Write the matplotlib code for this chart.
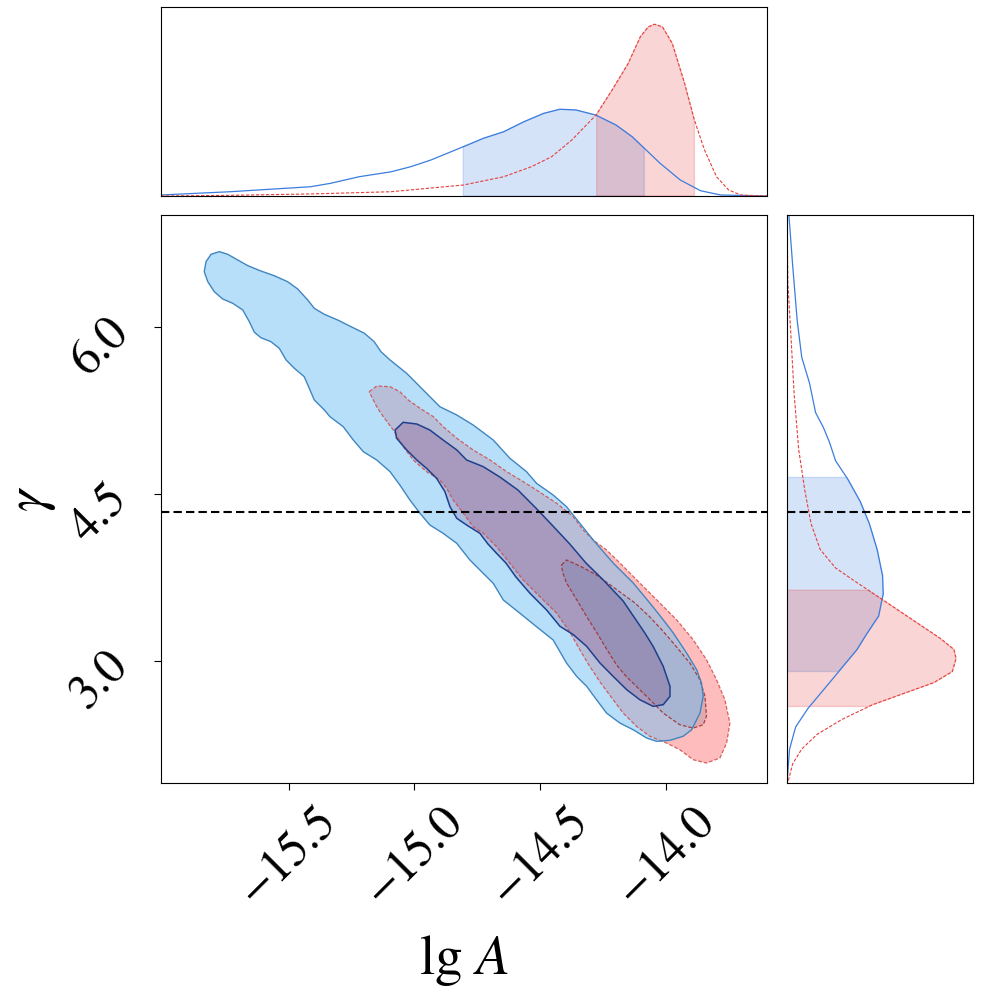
import numpy as np
import matplotlib
matplotlib.use("Agg")
import matplotlib.pyplot as plt
from matplotlib.path import Path
from matplotlib.patches import PathPatch, Polygon

plt.rcParams['font.family'] = 'STIXGeneral'
plt.rcParams['mathtext.fontset'] = 'stix'

# ---- data ----
gamma_inj = 4.333

# 2D credible contours (lg A, gamma), outer = 95%, inner = 68%
blue_outer = [(-15.835, 6.494), (-15.828, 6.584), (-15.808, 6.650), (-15.775, 6.674), (-15.742, 6.650),
              (-15.702, 6.599), (-15.662, 6.548), (-15.610, 6.500), (-15.557, 6.458), (-15.504, 6.404),
              (-15.464, 6.339), (-15.424, 6.240), (-15.398, 6.165), (-15.358, 6.111), (-15.305, 6.060),
              (-15.252, 6.000), (-15.199, 5.941), (-15.160, 5.865), (-15.133, 5.775), (-15.097, 5.701),
              (-15.031, 5.581), (-14.965, 5.431), (-14.899, 5.281), (-14.832, 5.207), (-14.767, 5.117),
              (-14.687, 4.982), (-14.621, 4.818), (-14.555, 4.698), (-14.515, 4.593), (-14.449, 4.488),
              (-14.396, 4.383), (-14.343, 4.234), (-14.290, 4.084), (-14.211, 3.878), (-14.131, 3.698),
              (-14.065, 3.518), (-14.012, 3.368), (-13.972, 3.249), (-13.919, 3.069), (-13.879, 2.919),
              (-13.860, 2.800), (-13.853, 2.680), (-13.866, 2.530), (-13.899, 2.380), (-13.933, 2.321),
              (-13.985, 2.285), (-14.038, 2.276), (-14.078, 2.306), (-14.131, 2.380), (-14.184, 2.440),
              (-14.237, 2.530), (-14.277, 2.650), (-14.316, 2.770), (-14.356, 2.860), (-14.396, 2.979),
              (-14.449, 3.186), (-14.515, 3.305), (-14.581, 3.426), (-14.647, 3.545), (-14.687, 3.695),
              (-14.727, 3.785), (-14.780, 3.905), (-14.832, 4.054), (-14.886, 4.144), (-14.939, 4.219),
              (-14.978, 4.324), (-15.018, 4.443), (-15.058, 4.578), (-15.097, 4.698), (-15.150, 4.803),
              (-15.203, 4.877), (-15.243, 4.982), (-15.283, 5.102), (-15.336, 5.192), (-15.358, 5.252),
              (-15.398, 5.342), (-15.418, 5.447), (-15.438, 5.551), (-15.477, 5.626), (-15.510, 5.701),
              (-15.537, 5.806), (-15.570, 5.865), (-15.610, 5.901), (-15.636, 5.950), (-15.656, 6.045),
              (-15.682, 6.150), (-15.722, 6.210), (-15.762, 6.249), (-15.795, 6.314), (-15.821, 6.404)]

blue_inner = [(-15.077, 5.072), (-15.045, 5.141), (-14.991, 5.126), (-14.939, 5.072), (-14.886, 4.982),
              (-14.832, 4.893), (-14.793, 4.803), (-14.727, 4.743), (-14.661, 4.650), (-14.589, 4.533),
              (-14.518, 4.372), (-14.450, 4.210), (-14.383, 4.048), (-14.319, 3.878), (-14.250, 3.725),
              (-14.171, 3.536), (-14.120, 3.366), (-14.085, 3.249), (-14.052, 3.129), (-14.012, 2.950),
              (-13.985, 2.770), (-13.985, 2.680), (-14.012, 2.605), (-14.052, 2.590), (-14.105, 2.650),
              (-14.157, 2.740), (-14.211, 2.860), (-14.263, 2.979), (-14.316, 3.129), (-14.369, 3.234),
              (-14.422, 3.309), (-14.475, 3.455), (-14.541, 3.605), (-14.597, 3.752), (-14.637, 3.878),
              (-14.674, 3.965), (-14.708, 4.048), (-14.740, 4.144), (-14.793, 4.219), (-14.832, 4.279),
              (-14.859, 4.383), (-14.879, 4.518), (-14.912, 4.638), (-14.952, 4.728), (-14.991, 4.803),
              (-15.031, 4.893), (-15.071, 4.998)]

red_outer = [(-15.180, 5.416), (-15.150, 5.467), (-15.097, 5.461), (-15.058, 5.416), (-15.025, 5.342),
             (-14.978, 5.267), (-14.925, 5.192), (-14.886, 5.102), (-14.832, 4.998), (-14.767, 4.893),
             (-14.700, 4.803), (-14.634, 4.698), (-14.568, 4.608), (-14.515, 4.533), (-14.435, 4.414),
             (-14.369, 4.293), (-14.330, 4.174), (-14.290, 4.084), (-14.237, 3.994), (-14.184, 3.878),
             (-14.105, 3.698), (-14.025, 3.518), (-13.959, 3.368), (-13.893, 3.189), (-13.840, 3.009),
             (-13.800, 2.829), (-13.767, 2.650), (-13.747, 2.440), (-13.760, 2.261), (-13.787, 2.126),
             (-13.840, 2.081), (-13.893, 2.111), (-13.946, 2.201), (-13.999, 2.261), (-14.065, 2.321),
             (-14.118, 2.411), (-14.171, 2.530), (-14.216, 2.665), (-14.263, 2.809), (-14.307, 2.961),
             (-14.347, 3.114), (-14.383, 3.258), (-14.435, 3.426), (-14.502, 3.575), (-14.568, 3.725),
             (-14.621, 3.875), (-14.674, 4.024), (-14.727, 4.144), (-14.767, 4.204), (-14.806, 4.324),
             (-14.846, 4.443), (-14.872, 4.549), (-14.899, 4.623), (-14.952, 4.698), (-15.005, 4.803),
             (-15.045, 4.922), (-15.084, 5.072), (-15.124, 5.192), (-15.150, 5.281), (-15.170, 5.371)]

red_inner = [(-14.416, 3.860), (-14.396, 3.905), (-14.343, 3.851), (-14.277, 3.770), (-14.200, 3.644),
             (-14.124, 3.518), (-14.065, 3.393), (-14.017, 3.276), (-13.972, 3.159), (-13.906, 2.979),
             (-13.866, 2.829), (-13.846, 2.680), (-13.840, 2.501), (-13.853, 2.425), (-13.893, 2.395),
             (-13.946, 2.425), (-14.012, 2.530), (-14.078, 2.680), (-14.157, 2.854), (-14.197, 2.961),
             (-14.232, 3.087), (-14.275, 3.249), (-14.315, 3.393), (-14.355, 3.545), (-14.396, 3.698),
             (-14.412, 3.797)]

# marginal of lg A (top panel)
top_lga_blue = [-16.007, -15.732, -15.413, -15.333, -15.221, -15.093, -15.014, -14.934, -14.806, -14.726,
                -14.646, -14.566, -14.487, -14.423, -14.359, -14.279, -14.199, -14.135, -14.087, -14.024,
                -13.944, -13.864, -13.784, -13.600]
top_pdf_blue = [0.006, 0.025, 0.054, 0.074, 0.112, 0.141, 0.171, 0.210, 0.287, 0.336,
                0.374, 0.432, 0.481, 0.505, 0.501, 0.471, 0.413, 0.345, 0.278, 0.190,
                0.093, 0.031, 0.006, 0.0]
top_lga_red = [-16.007, -15.733, -15.413, -15.093, -14.806, -14.646, -14.535, -14.455, -14.375, -14.311,
               -14.279, -14.215, -14.151, -14.103, -14.071, -14.047, -14.015, -13.976, -13.927, -13.888,
               -13.848, -13.800, -13.752, -13.704, -13.600]
top_pdf_red = [0.0, 0.004, 0.012, 0.025, 0.064, 0.112, 0.171, 0.229, 0.326, 0.423,
               0.471, 0.617, 0.772, 0.927, 0.985, 1.0, 0.985, 0.889, 0.656, 0.442,
               0.268, 0.112, 0.035, 0.006, 0.0]

# marginal of gamma (right panel)
right_g_blue = [7.003, 6.555, 6.057, 5.725, 5.493, 5.228, 5.095, 4.962, 4.796, 4.629, 4.430, 4.231,
                3.999, 3.766, 3.601, 3.401, 3.235, 3.102, 2.936, 2.737, 2.572, 2.405, 2.207, 1.907]
right_pdf_blue = [0.011, 0.033, 0.060, 0.087, 0.133, 0.169, 0.215, 0.251, 0.287, 0.360, 0.433, 0.487,
                  0.533, 0.565, 0.569, 0.542, 0.469, 0.415, 0.324, 0.215, 0.124, 0.051, 0.015, 0.0]
right_g_red = [7.0, 6.389, 5.891, 5.394, 4.895, 4.531, 4.231, 3.999, 3.833, 3.700, 3.535, 3.368,
               3.202, 3.102, 3.020, 2.903, 2.803, 2.704, 2.604, 2.472, 2.339, 2.207, 2.073, 1.907]
right_pdf_red = [0.0, 0.005, 0.024, 0.042, 0.069, 0.105, 0.142, 0.196, 0.287, 0.415, 0.578, 0.742,
                 0.905, 0.987, 1.0, 0.978, 0.869, 0.687, 0.505, 0.324, 0.178, 0.087, 0.033, 0.005]

# 68% intervals shaded in the marginals
blue_ci_lga = (-14.806, -14.087)
red_ci_lga = (-14.276, -13.888)
blue_ci_gamma = (2.903, 4.646)
red_ci_gamma = (2.589, 3.634)

xlim = (-16.007, -13.600)
ylim = (1.902, 7.003)

BLUE_LINE = '#3b7ddd'
RED_LINE = '#e5403c'


def ring(pts, ccw=True):
    a = np.asarray(pts, dtype=float)
    area = 0.5 * np.sum(a[:, 0] * np.roll(a[:, 1], -1) - np.roll(a[:, 0], -1) * a[:, 1])
    if (area > 0) != ccw:
        a = a[::-1]
    return a


def band_path(outer, inner):
    o = ring(outer, True)
    i = ring(inner, False)
    verts = np.concatenate([o, o[:1], i, i[:1]])
    codes = ([Path.MOVETO] + [Path.LINETO] * (len(o) - 1) + [Path.CLOSEPOLY] +
             [Path.MOVETO] + [Path.LINETO] * (len(i) - 1) + [Path.CLOSEPOLY])
    return Path(verts, codes)


def shade_poly(xs, ps, lo, hi):
    xs = np.asarray(xs)
    ps = np.asarray(ps)
    m = (xs > lo) & (xs < hi)
    px = np.concatenate([[lo], xs[m], [hi]])
    py = np.concatenate([[np.interp(lo, xs, ps)], ps[m], [np.interp(hi, xs, ps)]])
    return np.concatenate([[lo], px, [hi]]), np.concatenate([[0], py, [0]])


fig = plt.figure(figsize=(9.96, 9.94), dpi=100)
ax = fig.add_axes([0.1616, 0.2123, 0.6084, 0.5714])
ax_top = fig.add_axes([0.1616, 0.8028, 0.6084, 0.1901])
ax_right = fig.add_axes([0.7902, 0.2123, 0.1867, 0.5714])

# ---- main 2D panel ----
ax.add_patch(Polygon(red_outer, closed=True, fc='#ffbcbc', ec='none', zorder=1))
ax.add_patch(Polygon(red_inner, closed=True, fc='#deaaaf', ec='none', zorder=1))
ax.add_patch(PathPatch(band_path(blue_outer, blue_inner), fc='#73c1f5', ec='none', alpha=0.5, zorder=2))
ax.add_patch(Polygon(blue_inner, closed=True, fc='#517ac0', ec='none', alpha=0.5, zorder=2))

ax.add_patch(Polygon(red_outer, closed=True, fill=False, ec='#d24a4a', lw=0.9,
                     ls=(0, (3, 1.5)), alpha=0.85, zorder=3))
ax.add_patch(Polygon(red_inner, closed=True, fill=False, ec='#9e2b2b', lw=0.9,
                     ls=(0, (3, 1.5)), alpha=0.85, zorder=3))
ax.add_patch(Polygon(blue_outer, closed=True, fill=False, ec='#3f86c0', lw=1.0, zorder=3))
ax.add_patch(Polygon(blue_inner, closed=True, fill=False, ec='#1f3f8c', lw=1.1, zorder=3))

ax.axhline(gamma_inj, color='k', lw=1.5, ls=(0, (4, 2)), zorder=4)
ax.set_xlim(*xlim)
ax.set_ylim(*ylim)
ax.set_xticks([-15.5, -15.0, -14.5, -14.0])
ax.set_yticks([3.0, 4.5, 6.0])
ax.tick_params(axis='x', labelsize=35, labelrotation=45, length=5, pad=6)
ax.tick_params(axis='y', labelsize=35, labelrotation=45, length=5, pad=12)
ax.set_xlabel(r'$\lg\,A$', fontsize=40)
ax.set_ylabel(r'$\gamma$', fontsize=40)
ax.xaxis.set_label_coords(0.5, -0.265)
ax.yaxis.set_label_coords(-0.17, 0.5)

# ---- top marginal ----
for xs, ps, ci, col in [(top_lga_blue, top_pdf_blue, blue_ci_lga, '#2f74e0'),
                        (top_lga_red, top_pdf_red, red_ci_lga, '#e62e2e')]:
    sx, sy = shade_poly(xs, ps, *ci)
    ax_top.fill(sx, sy, fc=col, ec=col, lw=1.0, alpha=0.2, zorder=1)
ax_top.plot(top_lga_blue, top_pdf_blue, color=BLUE_LINE, lw=0.9, zorder=2)
ax_top.plot(top_lga_red, top_pdf_red, color=RED_LINE, lw=0.8, ls=(0, (3, 1.5)), zorder=2)
ax_top.set_xlim(*xlim)
ax_top.set_ylim(0, 1.1)
ax_top.set_xticks([])
ax_top.set_yticks([])

# ---- right marginal ----
for gs, ps, ci, col in [(right_g_blue, right_pdf_blue, blue_ci_gamma, '#2f74e0'),
                        (right_g_red, right_pdf_red, red_ci_gamma, '#e62e2e')]:
    order = np.argsort(gs)
    sg, sp = shade_poly(np.asarray(gs)[order], np.asarray(ps)[order], *ci)
    ax_right.fill(sp, sg, fc=col, ec=col, lw=1.0, alpha=0.2, zorder=1)
ax_right.plot(right_pdf_blue, right_g_blue, color=BLUE_LINE, lw=0.9, zorder=2)
ax_right.plot(right_pdf_red, right_g_red, color=RED_LINE, lw=0.8, ls=(0, (3, 1.5)), zorder=2)
ax_right.axhline(gamma_inj, color='k', lw=1.5, ls=(0, (4, 2)), zorder=3)
ax_right.set_ylim(*ylim)
ax_right.set_xlim(0, 1.1)
ax_right.set_xticks([])
ax_right.set_yticks([])

fig.savefig('out.png', dpi=100)
